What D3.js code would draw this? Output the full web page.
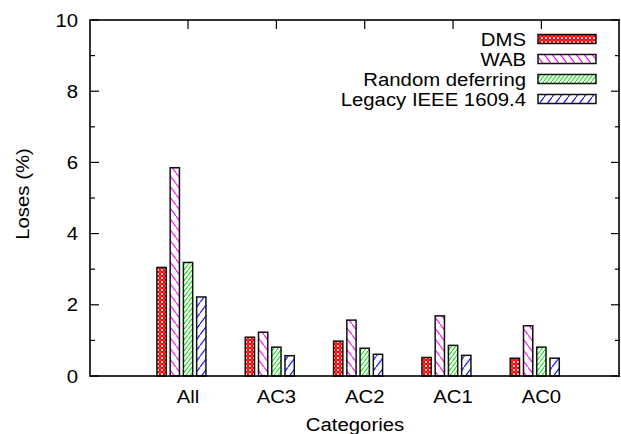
<!DOCTYPE html>
<html>
<head>
<meta charset="utf-8">
<script src="https://cdn.jsdelivr.net/npm/d3@7"></script>
<style>
  html, body { margin: 0; padding: 0; background: #fff; }
  svg { display: block; font-family: "Liberation Sans", Arial, Helvetica, sans-serif; }
</style>
</head>
<body>
<svg id="chart" width="621" height="434"></svg>
<script>
// ---- data ----
const categories = ["All", "AC3", "AC2", "AC1", "AC0"];
const seriesNames = ["DMS", "WAB", "Random deferring", "Legacy IEEE 1609.4"];
const dmsValues    = [3.05, 1.09, 0.98, 0.52, 0.50];
const wabValues    = [5.85, 1.23, 1.57, 1.69, 1.41];
const randomValues = [3.19, 0.81, 0.78, 0.86, 0.81];
const legacyValues = [2.22, 0.57, 0.61, 0.58, 0.50];
const yTicks = [0, 2, 4, 6, 8, 10];
const yMinorTicks = [1, 3, 5, 7, 9];
const yLabel = "Loses (%)";
const xLabel = "Categories";

const seriesValues = [dmsValues, wabValues, randomValues, legacyValues];
const seriesColors = ["#ff0000", "#ff00ff", "#00dd00", "#0000ff"];

// ---- layout ----
const W = 621, H = 434;
const margin = { left: 90, right: 1, top: 20, bottom: 58 };
const plotL = margin.left, plotR = W - margin.right, plotT = margin.top, plotB = H - margin.bottom;
const FS = 18, SX = 1.13;

const svg = d3.select("#chart");

const x = d3.scaleLinear().domain([-1.11, 4.89]).range([plotL, plotR]);
const y = d3.scaleLinear().domain([0, 10]).range([plotB, plotT]);

const step = 0.15;      // distance between bars within a cluster (x units)
const bw = 0.105;       // bar width (x units)

// text helper: horizontally widened text like the reference rendering
function label(g, tx, ty, str, anchor, rot) {
  const t = g.append("text")
    .attr("transform", `translate(${tx},${ty})` + (rot ? ` rotate(${rot})` : "") + ` scale(${SX},1)`)
    .attr("text-anchor", anchor).attr("font-size", FS).attr("fill", "#000")
    .text(str);
  return t;
}

// ---- patterns ----
const defs = svg.append("defs");
const p0 = defs.append("pattern").attr("id", "pat0").attr("patternUnits", "userSpaceOnUse")
  .attr("width", 4).attr("height", 4);
p0.append("rect").attr("width", 4).attr("height", 4).attr("fill", "#ff0000");
p0.append("circle").attr("cx", 2).attr("cy", 2).attr("r", 1.1).attr("fill", "#ffffff");
p0.append("circle").attr("cx", 0).attr("cy", 0).attr("r", 0.6).attr("fill", "#ffdddd");
p0.append("circle").attr("cx", 4).attr("cy", 0).attr("r", 0.6).attr("fill", "#ffdddd");
p0.append("circle").attr("cx", 0).attr("cy", 4).attr("r", 0.6).attr("fill", "#ffdddd");
p0.append("circle").attr("cx", 4).attr("cy", 4).attr("r", 0.6).attr("fill", "#ffdddd");

function linePattern(id, color, size, dir) {
  const h = size * 1.35;
  const p = defs.append("pattern").attr("id", id).attr("patternUnits", "userSpaceOnUse")
    .attr("width", size).attr("height", h);
  p.append("rect").attr("width", size).attr("height", h).attr("fill", "#fff");
  if (dir === "back") {
    p.append("line").attr("x1", 0).attr("y1", 0).attr("x2", size).attr("y2", h)
      .attr("stroke", color).attr("stroke-width", 1.1);
  } else {
    p.append("line").attr("x1", 0).attr("y1", h).attr("x2", size).attr("y2", 0)
      .attr("stroke", color).attr("stroke-width", 1.1);
  }
}
linePattern("pat1", seriesColors[1], 8, "back");
linePattern("pat2", "#00e000", 4, "fwd");
linePattern("pat3", seriesColors[3], 8, "fwd");

// ---- ticks ----
const axisG = svg.append("g").attr("stroke", "#000").attr("stroke-width", 1.2);
categories.forEach((c, i) => {
  axisG.append("line").attr("x1", x(i)).attr("x2", x(i)).attr("y1", plotB).attr("y2", plotB - 9);
  axisG.append("line").attr("x1", x(i)).attr("x2", x(i)).attr("y1", plotT).attr("y2", plotT + 9);
});
yTicks.forEach(v => {
  axisG.append("line").attr("x1", plotL).attr("x2", plotL + 9).attr("y1", y(v)).attr("y2", y(v));
  axisG.append("line").attr("x1", plotR).attr("x2", plotR - 9).attr("y1", y(v)).attr("y2", y(v));
});
yMinorTicks.forEach(v => {
  axisG.append("line").attr("x1", plotL).attr("x2", plotL + 5).attr("y1", y(v)).attr("y2", y(v));
  axisG.append("line").attr("x1", plotR).attr("x2", plotR - 5).attr("y1", y(v)).attr("y2", y(v));
});

// ---- bars ----
seriesValues.forEach((vals, j) => {
  svg.append("g").selectAll("rect").data(vals).join("rect")
    .attr("x", (d, i) => x(i + (j - 2) * step - bw / 2))
    .attr("width", x(bw) - x(0))
    .attr("y", d => y(d))
    .attr("height", d => y(0) - y(d))
    .attr("fill", `url(#pat${j})`)
    .attr("stroke", "#111")
    .attr("stroke-width", 1.5);
});

// ---- frame ----
svg.append("rect").attr("x", plotL).attr("y", plotT)
  .attr("width", plotR - plotL - 1).attr("height", plotB - plotT)
  .attr("fill", "none").attr("stroke", "#000").attr("stroke-width", 1.6);

// ---- tick labels ----
const yl = svg.append("g");
yTicks.forEach(v => label(yl, 78, y(v) + 6.5, v, "end"));
const xl = svg.append("g");
categories.forEach((c, i) => label(xl, x(i), 403, c, "middle"));

// ---- axis titles ----
label(svg, (plotL + plotR) / 2, 431, xLabel, "middle");
label(svg, 29, (plotT + plotB) / 2 - 4, yLabel, "middle", -90)
  .attr("transform", `translate(29,${(plotT + plotB) / 2 - 4}) rotate(-90) scale(${SX},1)`);

// ---- legend ----
const legend = svg.append("g");
seriesNames.forEach((name, j) => {
  const cy = 39 + j * 20;
  label(legend, 526, cy + 6.5, name, "end");
  legend.append("rect").attr("x", 538).attr("y", cy - 4.5).attr("width", 58).attr("height", 9)
    .attr("fill", `url(#pat${j})`).attr("stroke", "#111").attr("stroke-width", 1.5);
});
</script>
</body>
</html>
